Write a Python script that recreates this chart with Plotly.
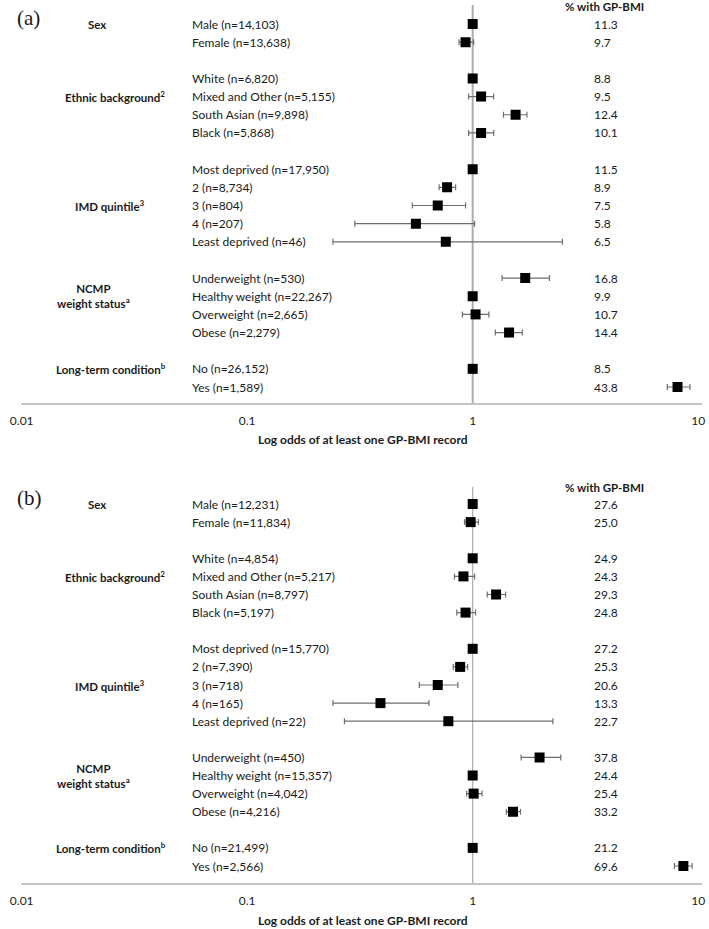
import plotly.graph_objects as go

# ---- data ----
group_names = ["Sex", "Ethnic background<sup>2</sup>", "IMD quintile<sup>3</sup>",
               "NCMP<br>weight status<sup>a</sup>", "Long-term condition<sup>b</sup>"]
levels = ["Male", "Female",
          "White", "Mixed and Other", "South Asian", "Black",
          "Most deprived", "2", "3", "4", "Least deprived",
          "Underweight", "Healthy weight", "Overweight", "Obese",
          "No", "Yes"]
group_of_level = [0, 0, 1, 1, 1, 1, 2, 2, 2, 2, 2, 3, 3, 3, 3, 4, 4]

# panel (a)
n_a = [14103, 13638, 6820, 5155, 9898, 5868, 17950, 8734, 804, 207, 46,
       530, 22267, 2665, 2279, 26152, 1589]
or_a = [1, 0.93, 1, 1.09, 1.55, 1.09, 1, 0.77, 0.70, 0.56, 0.76,
        1.71, 1, 1.03, 1.45, 1, 8.1]
lo_a = [1, 0.87, 1, 0.96, 1.37, 0.96, 1, 0.71, 0.54, 0.30, 0.24,
        1.35, 1, 0.90, 1.26, 1, 7.3]
hi_a = [1, 1.01, 1, 1.24, 1.74, 1.24, 1, 0.84, 0.93, 1.02, 2.5,
        2.19, 1, 1.18, 1.66, 1, 9.2]
pct_a = ["11.3", "9.7", "8.8", "9.5", "12.4", "10.1", "11.5", "8.9", "7.5", "5.8",
         "6.5", "16.8", "9.9", "10.7", "14.4", "8.5", "43.8"]

# panel (b)
n_b = [12231, 11834, 4854, 5217, 8797, 5197, 15770, 7390, 718, 165, 22,
       450, 15357, 4042, 4216, 21499, 2566]
or_b = [1, 0.98, 1, 0.91, 1.27, 0.93, 1, 0.88, 0.70, 0.39, 0.78,
        1.98, 1, 1.01, 1.51, 1, 8.6]
lo_b = [1, 0.92, 1, 0.83, 1.16, 0.85, 1, 0.82, 0.58, 0.24, 0.27,
        1.64, 1, 0.94, 1.41, 1, 7.85]
hi_b = [1, 1.06, 1, 1.02, 1.40, 1.03, 1, 0.95, 0.86, 0.64, 2.27,
        2.46, 1, 1.10, 1.63, 1, 9.4]
pct_b = ["27.6", "25.0", "24.9", "24.3", "29.3", "24.8", "27.2", "25.3", "20.6", "13.3",
         "22.7", "37.8", "24.4", "25.4", "33.2", "21.2", "69.6"]

W, H = 709, 929
FONT = "Lato"
TXT = "#1a1a1a"

# row index of each level, leaving a blank row between groups
rows = []
r = 0
for i, g in enumerate(group_of_level):
    if i > 0 and g != group_of_level[i - 1]:
        r += 1
    rows.append(r)
    r += 1
# which row each group title sits on
group_rows = [0, 4, 10, 15, 19]
group_x_px = [88, 106, 101, 84, 102]


def px(x):
    return x / W


def py(y):
    return 1 - y / H


fig = go.Figure()
annotations = []
shapes = []

panels = [
    dict(tag="(a)", n=n_a, est=or_a, lo=lo_a, hi=hi_a, pct=pct_a,
         xa="x", ya="y", top=5, bottom=403, row0=24, step=18.15,
         head=6, title=440, vline=2),
    dict(tag="(b)", n=n_b, est=or_b, lo=lo_b, hi=hi_b, pct=pct_b,
         xa="x2", ya="y2", top=487, bottom=883, row0=504, step=18.1,
         head=487, title=920, vline=1.2),
]

for k, p in enumerate(panels):
    plus = [h - e for h, e in zip(p["hi"], p["est"])]
    minus = [e - l for e, l in zip(p["est"], p["lo"])]
    fig.add_trace(go.Scatter(
        x=p["est"], y=rows, xaxis=p["xa"], yaxis=p["ya"],
        mode="markers",
        marker=dict(symbol="square", size=10, color="black"),
        error_x=dict(type="data", symmetric=False, array=plus, arrayminus=minus,
                     color="#6e6e6e", thickness=1.2, width=3),
        showlegend=False, hoverinfo="skip",
    ))

    # y range so that row spacing matches the picture
    r_top = (p["top"] - p["row0"]) / p["step"]
    r_bot = (p["bottom"] - p["row0"]) / p["step"]
    ax = "yaxis" if k == 0 else "yaxis2"
    fig.layout[ax] = dict(domain=[py(p["bottom"]), py(p["top"])],
                          range=[r_bot, r_top], visible=False, fixedrange=True)
    xax = "xaxis" if k == 0 else "xaxis2"
    fig.layout[xax] = dict(
        type="log", domain=[px(10), px(705)], range=[-2.004, 1.0174],
        anchor=p["ya"], tickvals=[0.01, 0.1, 1, 10],
        ticktext=["0.01", "0.1", "1", "10"],
        showline=True, linecolor="#c4c4c4", linewidth=2,
        showgrid=False, zeroline=False, ticks="", fixedrange=True,
        ticklabelstandoff=6, ticklabeloverflow="allow",
        tickfont=dict(family=FONT, size=12, color=TXT),
    )

    # reference line at OR = 1
    shapes.append(dict(type="line", xref=p["xa"], yref=p["ya"] + " domain",
                       x0=1, x1=1, y0=0, y1=1, layer="below",
                       line=dict(color="#acacac", width=p["vline"])))

    yref = p["ya"]
    for i, lev in enumerate(levels):
        annotations.append(dict(
            x=px(183), xref="paper", y=rows[i], yref=yref,
            text=f"{lev} (n={p['n'][i]:,})", showarrow=False,
            xanchor="left", yanchor="middle",
            font=dict(family=FONT, size=12, color=TXT)))
        annotations.append(dict(
            x=px(593), xref="paper", y=rows[i], yref=yref,
            text=p["pct"][i], showarrow=False,
            xanchor="left", yanchor="middle",
            font=dict(family=FONT, size=12, color=TXT)))
    for g, name in enumerate(group_names):
        annotations.append(dict(
            x=px(group_x_px[g]), xref="paper", y=group_rows[g], yref=yref,
            text=f"<b>{name}</b>", showarrow=False,
            xanchor="center", yanchor="middle",
            font=dict(family=FONT, size=11.5, color=TXT)))

    annotations.append(dict(
        x=px(605), xref="paper", y=py(p["head"]), yref="paper",
        text="<b>% with GP-BMI</b>", showarrow=False,
        xanchor="center", yanchor="middle",
        font=dict(family=FONT, size=11.5, color=TXT)))
    annotations.append(dict(
        x=px(359), xref="paper", y=py(p["title"]), yref="paper",
        text="<b>Log odds of at least one GP-BMI record</b>", showarrow=False,
        xanchor="center", yanchor="middle",
        font=dict(family=FONT, size=12, color=TXT)))
    annotations.append(dict(
        x=px(4), xref="paper", y=py(p["row0"] - 6), yref="paper",
        text=p["tag"], showarrow=False,
        xanchor="left", yanchor="middle",
        font=dict(family="Liberation Serif", size=21, color=TXT)))

fig.update_layout(
    width=W, height=H,
    margin=dict(l=0, r=0, t=0, b=0),
    paper_bgcolor="white", plot_bgcolor="white",
    annotations=annotations, shapes=shapes,
    dragmode=False,
)

# the page body has a default 8px margin; drop it so the figure fills the window
fig.write_html("out.html", config={"displayModeBar": False},
               post_script="document.body.style.margin='0';")
